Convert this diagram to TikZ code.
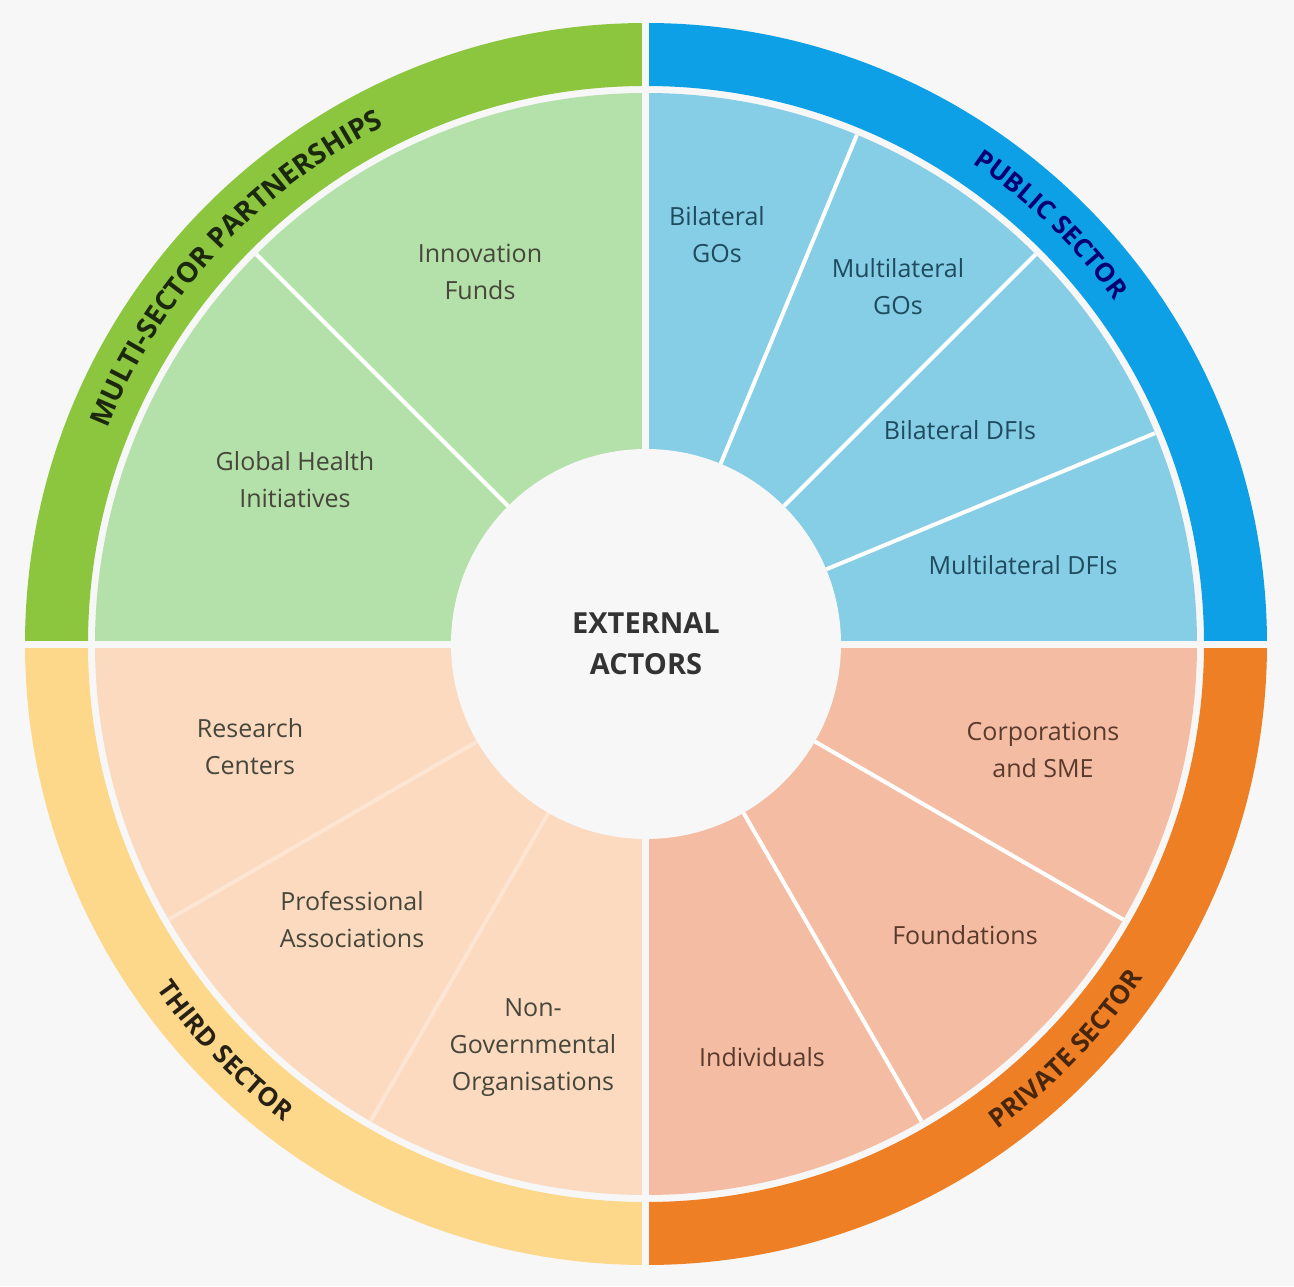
\documentclass[tikz,border=0pt]{standalone}
\usepackage{fontspec}
\setmainfont{Open Sans}
\usepackage{tikz}
\usetikzlibrary{%
  positioning
 ,calc
 ,decorations.text
}
\definecolor{bgGrey}{HTML}{F7F7F7}
\definecolor{msBand}{HTML}{8CC63F}
\definecolor{msFill}{HTML}{B4E0AA}
\definecolor{msText}{HTML}{46463A}
\definecolor{puBand}{HTML}{0EA0E6}
\definecolor{puFill}{HTML}{86CDE6}
\definecolor{puText}{HTML}{1F4B5E}
\definecolor{prBand}{HTML}{EE7F24}
\definecolor{prFill}{HTML}{F4BDA3}
\definecolor{prText}{HTML}{5A3A2C}
\definecolor{thBand}{HTML}{FDD88A}
\definecolor{thFill}{HTML}{FBDAC0}
\definecolor{thText}{HTML}{46463A}
\tikzstyle{lbl}=[align=center,font=\fontsize{25}{37}\selectfont,inner sep=2pt]
\tikzstyle{hub}=[align=center,font=\fontsize{29}{41}\selectfont\bfseries,text=black!80]
\tikzstyle{divider}=[draw=white,line width=4pt]
\tikzstyle{gap}=[draw=bgGrey,line width=7pt]
\tikzstyle{bandlbl}=[decorate,decoration={text along path,text align=center}]

\begin{document}
\begin{tikzpicture}[x=1pt,y=1pt]
  \useasboundingbox (-646,-642) rectangle (648,644);
  \fill[bgGrey] (-646,-642) rectangle (648,644);
% outer bands
  \fill[msBand] (90:621) arc[start angle=90,end angle=180,radius=621pt]
    -- (180:558) arc[start angle=180,end angle=90,radius=558pt] -- cycle;
  \fill[puBand] (0:621) arc[start angle=0,end angle=90,radius=621pt]
    -- (90:558) arc[start angle=90,end angle=0,radius=558pt] -- cycle;
  \fill[prBand] (-90:621) arc[start angle=-90,end angle=0,radius=621pt]
    -- (0:558) arc[start angle=0,end angle=-90,radius=558pt] -- cycle;
  \fill[thBand] (180:621) arc[start angle=180,end angle=270,radius=621pt]
    -- (270:558) arc[start angle=270,end angle=180,radius=558pt] -- cycle;
% sector fills
  \fill[msFill] (0,0) -- (90:551) arc[start angle=90,end angle=180,radius=551pt] -- cycle;
  \fill[puFill] (0,0) -- (0:551) arc[start angle=0,end angle=90,radius=551pt] -- cycle;
  \fill[prFill] (0,0) -- (-90:551) arc[start angle=-90,end angle=0,radius=551pt] -- cycle;
  \fill[thFill] (0,0) -- (180:551) arc[start angle=180,end angle=270,radius=551pt] -- cycle;
% dividers inside the quadrants
  \foreach \a in {135,67.5,45,22.5,-30,-60}
    \draw[divider] (\a:195) -- (\a:551);
  \foreach \a in {210,240}
    \draw[divider,draw opacity=0.3] (\a:195) -- (\a:551);
% gaps between quadrants
  \draw[gap] (-625,0) -- (625,0);
  \draw[gap] (0,-625) -- (0,625);
  \fill[bgGrey] (0,0) circle[radius=195pt];
% band labels
  \path[bandlbl,decoration={text color=black!80!msBand,
      text={|\fontsize{28}{32}\selectfont\bfseries|MULTI-SECTOR PARTNERSHIPS}}]
    (178:580) arc[start angle=178,end angle=97,radius=580pt];
  \path[bandlbl,decoration={text color=blue!45!black,
      text={|\fontsize{26}{30}\selectfont\bfseries|PUBLIC SECTOR}}]
    (80:581) arc[start angle=80,end angle=12,radius=581pt];
  \path[bandlbl,decoration={text color=black!70!prBand,
      text={|\fontsize{26}{30}\selectfont\bfseries|PRIVATE SECTOR}}]
    (-80:599) arc[start angle=-80,end angle=-8,radius=599pt];
  \path[bandlbl,decoration={text color=black!85!thBand,
      text={|\fontsize{26}{30}\selectfont\bfseries|THIRD SECTOR}}]
    (190:599) arc[start angle=190,end angle=258,radius=599pt];
% sector labels
  \node[hub] (actors) at (0,0) {EXTERNAL\\ACTORS};
  \node[lbl,text=msText] (innov) at (-166,372) {Innovation\\Funds};
  \node[lbl,text=msText] (ghi) at (-351,164) {Global Health\\Initiatives};
  \node[lbl,text=puText] (bgo) at (71,409) {Bilateral\\GOs};
  \node[lbl,text=puText] (mgo) at (252,357) {Multilateral\\GOs};
  \node[lbl,text=puText] (bdfi) at (314,214) {Bilateral DFIs};
  \node[lbl,text=puText] (mdfi) at (377,79) {Multilateral DFIs};
  \node[lbl,text=prText] (corp) at (397,-106) {Corporations\\and SME};
  \node[lbl,text=prText] (found) at (319,-291) {Foundations};
  \node[lbl,text=prText] (indiv) at (116,-413) {Individuals};
  \node[lbl,text=thText] (research) at (-396,-103) {Research\\Centers};
  \node[lbl,text=thText] (prof) at (-294,-276) {Professional\\Associations};
  \node[lbl,text=thText] (ngo) at (-113,-404) {Non-\\Governmental\\Organisations};
\end{tikzpicture}
\end{document}
